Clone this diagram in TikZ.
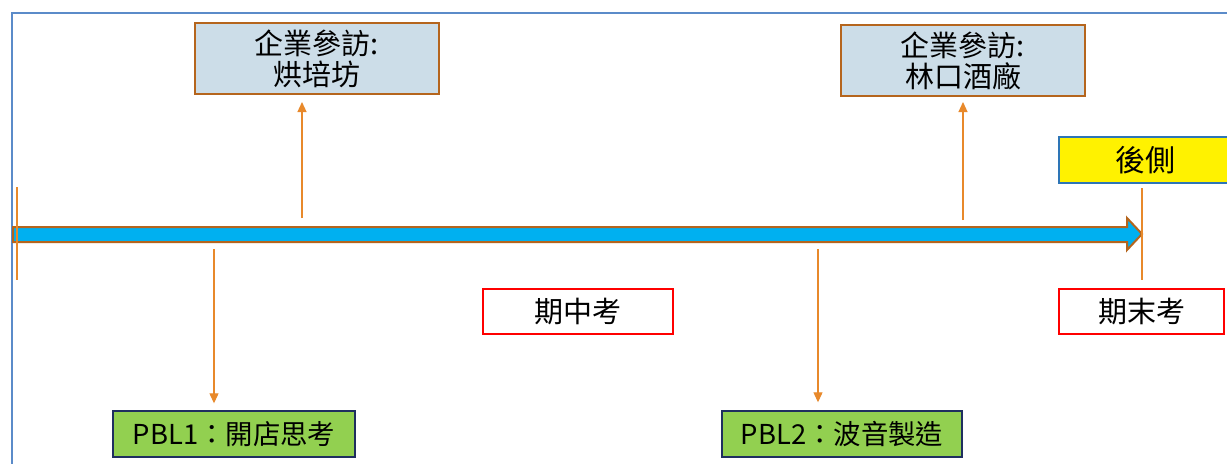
\documentclass[tikz,border=0pt]{standalone}
\usepackage{fontspec}
\setmainfont{Noto Sans CJK TC}
\usetikzlibrary{arrows.meta}
\definecolor{frameblue}{HTML}{5B8BC9}
\definecolor{boxfill}{HTML}{CCDDE8}
\definecolor{boxbrown}{HTML}{B5651D}
\definecolor{arrorange}{HTML}{E8892B}
\definecolor{barcyan}{HTML}{00B0F0}
\definecolor{pblgreen}{HTML}{92D050}
\definecolor{pblnavy}{HTML}{1F2F5F}
\definecolor{ybord}{HTML}{2E75B6}
\tikzset{
  visitbox/.style={draw=boxbrown, line width=1pt, fill=boxfill, minimum width=122pt, minimum height=35.5pt, inner sep=0pt, align=center, font=\fontsize{14.5}{15.5}\selectfont},
  exambox/.style={draw=red, line width=0.6pt, fill=white, minimum height=22.5pt, inner sep=0pt, font=\fontsize{14.5}{16}\selectfont},
  pblbox/.style={draw=pblnavy, line width=0.7pt, fill=pblgreen, minimum height=23pt, inner sep=0pt, font=\fontsize{13.7}{16}\selectfont},
  ybox/.style={draw=ybord, line width=0.7pt, fill=yellow, minimum height=23pt, inner sep=0pt, font=\fontsize{15}{16}\selectfont},
  conn/.style={draw=arrorange, line width=0.6pt, -{Triangle[width=4.5pt,length=5pt]}},
  tick/.style={draw=arrorange, line width=0.6pt}
}
\begin{document}
\begin{tikzpicture}[x=0.5pt,y=-0.5pt]
\clip (0,0) rectangle (1227,463);
\fill[white] (0,0) rectangle (1227,463);
% frame
\draw[frameblue, line width=0.9pt] (12,470) -- (12,13) -- (1240,13);
% main arrow
\draw[boxbrown, line width=1pt, fill=barcyan] (13,227) -- (1127,227) -- (1127,218) -- (1142,234) -- (1127,250) -- (1127,242) -- (13,242) -- cycle;
% nodes
\node[visitbox] (b1) at (317,58.5) {企業參訪:\\烘培坊};
\node[visitbox] (b2) at (963,60.5) {企業參訪:\\林口酒廠};
\node[ybox, minimum width=86pt] (hou) at (1145,160) {後側};
\node[exambox, minimum width=95pt] (mid) at (578,311.5) {期中考};
\node[exambox, minimum width=82.5pt] (fin) at (1141.5,311.5) {期末考};
\node[pblbox, minimum width=121pt] (p1) at (234,434) {PBL1：開店思考};
\node[pblbox, minimum width=120pt] (p2) at (842,434) {PBL2：波音製造};
% ticks
\coordinate (t1a) at (17,187);
\coordinate (t1b) at (17,280);
\draw[tick] (t1a) -- (t1b);
\coordinate (t2a) at (1142,188);
\coordinate (t2b) at (1142,280);
\draw[tick] (t2a) -- (t2b);
% connectors
\coordinate (u1) at (302,218);
\draw[conn, shorten >=3.5pt] (u1) -- (u1 |- b1.south);
\coordinate (u2) at (963,220);
\draw[conn, shorten >=2.5pt] (u2) -- (u2 |- b2.south);
\coordinate (d1) at (214,249);
\draw[conn, shorten >=3.5pt] (d1) -- (d1 |- p1.north);
\coordinate (d2) at (818,249);
\draw[conn, shorten >=4pt] (d2) -- (d2 |- p2.north);
\end{tikzpicture}
\end{document}
